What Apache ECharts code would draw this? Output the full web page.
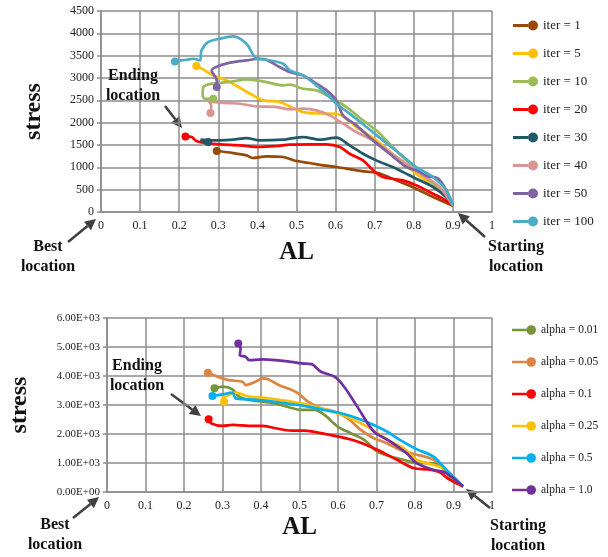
<!DOCTYPE html>
<html>
    <head>
        <meta charset="UTF-8" />
        <title>stress vs AL</title>
        <style>
            html,
            body {
                margin: 0;
                padding: 0;
                background: #fff;
            }
            #chart {
                width: 608px;
                height: 557px;
            }
        </style>
    </head>
    <body>
        <div id="chart"></div>
        <script src="https://cdn.jsdelivr.net/npm/echarts@6/dist/echarts.min.js"></script>
        <script>
            // top chart: iterations, points run from start (0.9) to ending location
            const iterNames = ["iter = 1", "iter = 5", "iter = 10", "iter = 20", "iter = 30", "iter = 40", "iter = 50", "iter = 100"];
            const iter1 = [[0.9, 140], [0.849, 336], [0.806, 522], [0.755, 709], [0.709, 873], [0.687, 895], [0.653, 933], [0.602, 1007], [0.568, 1044], [0.534, 1097], [0.5, 1141], [0.466, 1231], [0.423, 1246], [0.389, 1209], [0.372, 1268], [0.338, 1320], [0.296, 1365]];
            const iter5 = [[0.9, 140], [0.883, 336], [0.849, 597], [0.806, 858], [0.755, 1231], [0.704, 1604], [0.653, 1902], [0.602, 2200], [0.56, 2205], [0.52, 2230], [0.491, 2330], [0.457, 2462], [0.415, 2499], [0.389, 2611], [0.355, 2782], [0.321, 2947], [0.287, 3059], [0.261, 3193], [0.244, 3267]];
            const iter10 = [[0.9, 140], [0.874, 410], [0.84, 709], [0.806, 970], [0.772, 1231], [0.738, 1529], [0.704, 1828], [0.67, 2052], [0.628, 2350], [0.594, 2536], [0.551, 2723], [0.517, 2760], [0.483, 2850], [0.466, 2835], [0.423, 2909], [0.398, 2947], [0.372, 2969], [0.338, 2925], [0.3, 2887], [0.274, 2857], [0.261, 2783], [0.26, 2611], [0.266, 2536], [0.287, 2536]];
            const iter20 = [[0.9, 140], [0.874, 298], [0.84, 448], [0.806, 597], [0.772, 709], [0.721, 783], [0.696, 933], [0.67, 1156], [0.636, 1305], [0.611, 1455], [0.577, 1514], [0.534, 1514], [0.483, 1507], [0.449, 1477], [0.406, 1455], [0.355, 1492], [0.304, 1514], [0.27, 1544], [0.244, 1589], [0.232, 1678], [0.216, 1693]];
            const iter30 = [[0.9, 140], [0.883, 336], [0.849, 560], [0.806, 746], [0.755, 970], [0.704, 1156], [0.67, 1305], [0.636, 1492], [0.602, 1664], [0.56, 1619], [0.517, 1678], [0.483, 1641], [0.466, 1619], [0.406, 1604], [0.372, 1656], [0.338, 1619], [0.304, 1604], [0.279, 1604], [0.255, 1620], [0.262, 1580], [0.274, 1567]];
            const iter40 = [[0.9, 140], [0.866, 560], [0.823, 821], [0.781, 1082], [0.738, 1343], [0.696, 1604], [0.653, 1790], [0.619, 1977], [0.585, 2163], [0.551, 2276], [0.517, 2313], [0.483, 2298], [0.449, 2350], [0.398, 2365], [0.355, 2424], [0.321, 2439], [0.287, 2462], [0.274, 2499], [0.282, 2380], [0.28, 2216]];
            const iter50 = [[0.9, 140], [0.885, 450], [0.868, 700], [0.855, 775], [0.835, 800], [0.81, 920], [0.781, 1007], [0.738, 1305], [0.696, 1604], [0.653, 1940], [0.619, 2163], [0.602, 2499], [0.577, 2723], [0.551, 2872], [0.517, 3059], [0.483, 3133], [0.449, 3282], [0.423, 3409], [0.406, 3431], [0.372, 3394], [0.338, 3357], [0.304, 3282], [0.283, 3170], [0.296, 2947], [0.296, 2797]];
            const iter100 = [[0.9, 140], [0.883, 485], [0.849, 783], [0.806, 1007], [0.764, 1305], [0.721, 1604], [0.679, 1902], [0.636, 2201], [0.602, 2424], [0.585, 2574], [0.551, 2835], [0.517, 3059], [0.483, 3170], [0.466, 3320], [0.423, 3409], [0.398, 3431], [0.372, 3767], [0.338, 3931], [0.304, 3879], [0.274, 3805], [0.257, 3618], [0.253, 3394], [0.236, 3431], [0.219, 3409], [0.189, 3372]];
            const iterData = [iter1, iter5, iter10, iter20, iter30, iter40, iter50, iter100];
            const iterColors = ["#984807", "#FFC000", "#9BBB59", "#FF0000", "#215968", "#D99694", "#8064A2", "#4BACC6"];

            // bottom chart: alpha
            const alphaNames = ["alpha = 0.01", "alpha = 0.05", "alpha = 0.1", "alpha = 0.25", "alpha = 0.5", "alpha = 1.0"];
            const a001 = [[0.925, 190], [0.89, 538], [0.864, 939], [0.838, 997], [0.804, 997], [0.77, 1111], [0.736, 1226], [0.702, 1397], [0.668, 1798], [0.633, 2028], [0.599, 2257], [0.565, 2657], [0.539, 2829], [0.505, 2829], [0.472, 2921], [0.437, 3058], [0.403, 3116], [0.369, 3173], [0.343, 3288], [0.326, 3540], [0.3, 3631], [0.279, 3574]];
            const a005 = [[0.925, 190], [0.89, 596], [0.864, 997], [0.838, 1168], [0.795, 1317], [0.761, 1455], [0.727, 1684], [0.693, 1856], [0.659, 2142], [0.625, 2543], [0.591, 2772], [0.556, 2887], [0.522, 3116], [0.497, 3402], [0.48, 3517], [0.446, 3688], [0.42, 3883], [0.403, 3918], [0.386, 3803], [0.36, 3688], [0.352, 3803], [0.317, 3860], [0.283, 3998], [0.262, 4112]];
            const a01 = [[0.925, 190], [0.89, 424], [0.864, 676], [0.838, 767], [0.796, 825], [0.753, 1111], [0.702, 1455], [0.65, 1741], [0.608, 1890], [0.556, 2028], [0.514, 2119], [0.479, 2119], [0.437, 2199], [0.403, 2280], [0.369, 2280], [0.326, 2314], [0.3, 2280], [0.27, 2371], [0.264, 2509]];
            const a025 = [[0.925, 190], [0.881, 767], [0.847, 939], [0.804, 1111], [0.77, 1512], [0.736, 1741], [0.702, 2028], [0.676, 2257], [0.642, 2486], [0.599, 2715], [0.556, 2887], [0.514, 3035], [0.479, 3116], [0.42, 3230], [0.369, 3288], [0.334, 3425], [0.317, 3345], [0.3, 3230], [0.304, 3116]];
            const a05 = [[0.925, 190], [0.881, 767], [0.847, 1226], [0.804, 1478], [0.761, 1798], [0.727, 2085], [0.693, 2314], [0.65, 2543], [0.608, 2715], [0.565, 2829], [0.522, 2944], [0.479, 3035], [0.42, 3139], [0.369, 3196], [0.334, 3230], [0.326, 3425], [0.3, 3368], [0.274, 3310]];
            const a10 = [[0.925, 190], [0.881, 653], [0.847, 767], [0.804, 997], [0.778, 1340], [0.736, 1741], [0.693, 2085], [0.65, 2944], [0.616, 3631], [0.591, 3975], [0.556, 4147], [0.531, 4410], [0.505, 4433], [0.479, 4490], [0.437, 4548], [0.403, 4570], [0.369, 4548], [0.36, 4662], [0.345, 4719], [0.347, 4948], [0.341, 5120]];
            const alphaData = [a001, a005, a01, a025, a05, a10];
            const alphaColors = ["#77933C", "#DE8442", "#FF0000", "#FFC000", "#00B0F0", "#7030A0"];

            const FONT = '"Liberation Serif", "Times New Roman", serif';
            const GRID = "#8c8c8c";
            const INK = "#404040";
            // short line with a dot at its right end, like the Excel legend key
            const legendIcon = "path://M0,3.6L15,3.6L15,6.4L0,6.4Z M15,5a5,5 0 1,0 10,0a5,5 0 1,0 -10,0Z";

            function sci(v) {
                if (v === 0) return "0.00E+00";
                const e = Math.floor(Math.log10(v));
                return (v / Math.pow(10, e)).toFixed(2) + "E+" + String(e).padStart(2, "0");
            }

            function makeSeries(name, data, color, idx) {
                const last = data.length - 1;
                return {
                    name: name,
                    type: "line",
                    xAxisIndex: idx,
                    yAxisIndex: idx,
                    data: data,
                    smooth: 0.3,
                    symbol: "circle",
                    showAllSymbol: true,
                    symbolSize: (v, p) => (p.dataIndex === last ? 8 : 0),
                    lineStyle: { width: 2.7, color: color },
                    itemStyle: { color: color },
                    emphasis: { disabled: true },
                };
            }

            function legendItems(names, colors) {
                return names.map((n, i) => ({
                    name: n,
                    icon: legendIcon,
                    itemStyle: { color: colors[i], borderWidth: 0 },
                }));
            }

            function xAxis(idx) {
                return {
                    type: "value",
                    gridIndex: idx,
                    min: 0,
                    max: 1,
                    interval: 0.1,
                    name: "AL",
                    nameLocation: "middle",
                    nameGap: idx === 0 ? 28 : 23,
                    nameTextStyle: { fontFamily: FONT, fontWeight: "bold", fontSize: 25, color: "#111" },
                    axisLine: { lineStyle: { color: GRID, width: 1.5 } },
                    axisTick: { show: false },
                    axisLabel: { fontFamily: FONT, fontSize: 12, color: "#222", margin: 8 },
                    splitLine: { lineStyle: { color: GRID, width: 1.5 } },
                };
            }

            function yAxis(idx) {
                const top = idx === 0;
                return {
                    type: "value",
                    gridIndex: idx,
                    min: 0,
                    max: top ? 4500 : 6000,
                    interval: top ? 500 : 1000,
                    name: "stress",
                    nameLocation: "middle",
                    nameGap: top ? 55 : 75,
                    nameTextStyle: { fontFamily: FONT, fontWeight: "bold", fontSize: 24, color: "#111" },
                    axisLine: { lineStyle: { color: GRID, width: 1.5 } },
                    axisTick: { show: true, length: 4, lineStyle: { color: GRID, width: 1.5 } },
                    axisLabel: {
                        fontFamily: FONT,
                        fontSize: top ? 12 : 11,
                        color: "#222",
                        margin: 7,
                        formatter: top ? (v) => String(v) : sci,
                    },
                    splitLine: { lineStyle: { color: GRID, width: 1.5 } },
                };
            }

            function arrow(x1, y1, x2, y2) {
                const a = Math.atan2(y2 - y1, x2 - x1);
                const L = 11, W = 5.5;
                const bx = x2 - L * Math.cos(a), by = y2 - L * Math.sin(a);
                return [
                    { type: "line", shape: { x1: x1, y1: y1, x2: bx, y2: by }, style: { stroke: INK, lineWidth: 2.5 } },
                    {
                        type: "polygon",
                        shape: { points: [[x2, y2], [bx + W * Math.sin(a), by - W * Math.cos(a)], [bx - W * Math.sin(a), by + W * Math.cos(a)]] },
                        style: { fill: INK },
                    },
                ];
            }

            function note(x, y, text) {
                return {
                    type: "text",
                    x: x,
                    y: y,
                    z: 10,
                    style: { text: text, font: "bold 16px " + FONT, fill: "#111", align: "center", verticalAlign: "middle", lineHeight: 20 },
                };
            }

            const series = [];
            iterNames.forEach((n, i) => series.push(makeSeries(n, iterData[i], iterColors[i], 0)));
            alphaNames.forEach((n, i) => series.push(makeSeries(n, alphaData[i], alphaColors[i], 1)));

            const chart = echarts.init(document.getElementById("chart"));
            chart.setOption({
                animation: false,
                grid: [
                    { left: 101, right: 116, top: 11, bottom: 345 },
                    { left: 103, right: 116, top: 318, bottom: 65 },
                ],
                xAxis: [xAxis(0), xAxis(1)],
                yAxis: [yAxis(0), yAxis(1)],
                legend: [
                    {
                        data: legendItems(iterNames, iterColors),
                        orient: "vertical",
                        left: 513,
                        top: 19,
                        padding: 0,
                        itemGap: 15,
                        itemWidth: 25,
                        itemHeight: 10,
                        textStyle: { fontFamily: FONT, fontSize: 13, color: "#222" },
                    },
                    {
                        data: legendItems(alphaNames, alphaColors),
                        orient: "vertical",
                        left: 512,
                        top: 324,
                        padding: 0,
                        itemGap: 20,
                        itemWidth: 24,
                        itemHeight: 10,
                        textStyle: { fontFamily: FONT, fontSize: 11.5, color: "#222" },
                    },
                ],
                graphic: [
                    note(133, 86, "Ending\nlocation"),
                    ...arrow(165, 106, 182, 128),
                    note(48, 257, "Best\nlocation"),
                    ...arrow(68, 242, 96, 219),
                    note(516, 257, "Starting\nlocation"),
                    ...arrow(485, 237, 458, 213),
                    note(137, 376, "Ending\nlocation"),
                    ...arrow(171, 394, 201, 416),
                    note(55, 535, "Best\nlocation"),
                    ...arrow(73, 518, 99, 497),
                    note(518, 536, "Starting\nlocation"),
                    ...arrow(490, 508, 466, 489),
                ],
                series: series,
            });
        </script>
    </body>
</html>
